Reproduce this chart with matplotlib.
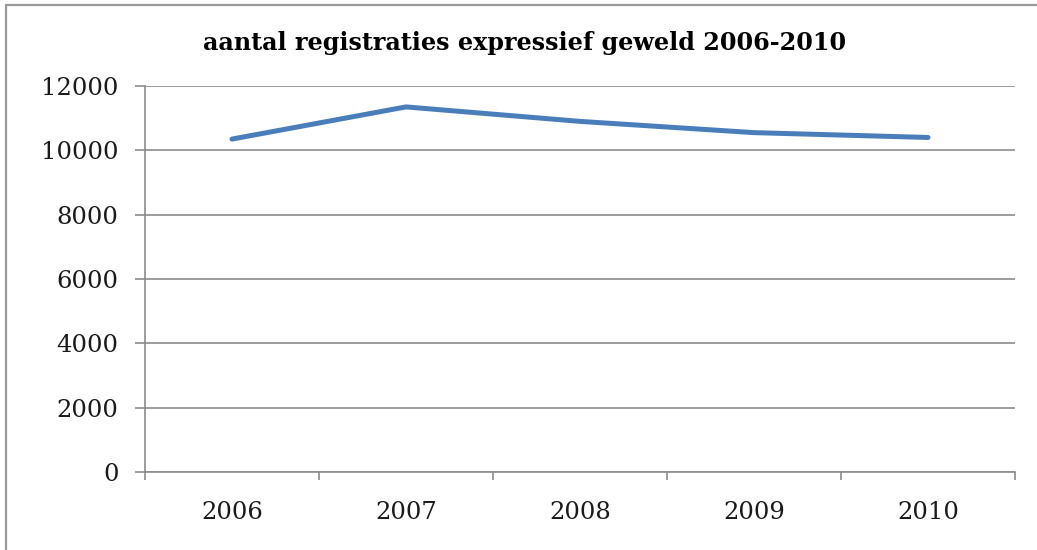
import numpy as np
import matplotlib.pyplot as plt
from matplotlib.patches import Rectangle

years = ['2006', '2007', '2008', '2009', '2010']
registraties = [10350, 11350, 10900, 10550, 10400]
y_ticks = [0, 2000, 4000, 6000, 8000, 10000, 12000]

plt.rcParams['font.family'] = ['DejaVu Serif']

fig = plt.figure(figsize=(10.37, 5.5), dpi=100)
ax = fig.add_axes([145/1037, 1-472/550, 870/1037, 386/550])

# outer chart frame (cut off at right and bottom)
fig.patches.append(Rectangle((6/1037, -0.1), 1.2, 1-5/550+0.1, transform=fig.transFigure,
                             fill=False, edgecolor='#9a9a9a', linewidth=1.6))

x = np.arange(len(years))
ax.plot(x, registraties, color='#4a7ebb', linewidth=3.6, solid_capstyle='round',
        solid_joinstyle='round', zorder=3)

ax.set_xlim(-0.5, len(years)-0.5)
ax.set_ylim(0, 12000)
ax.set_yticks(y_ticks)
ax.set_yticklabels([str(v) for v in y_ticks])
ax.set_xticks(x)
ax.set_xticklabels(years)
ax.set_xticks(np.arange(-0.5, len(years)), minor=True)

ax.grid(axis='y', color='#8c8c8c', linewidth=1.2)
ax.set_axisbelow(True)
for s in ['top', 'right']:
    ax.spines[s].set_visible(False)
for s in ['left', 'bottom']:
    ax.spines[s].set_color('#8c8c8c')
    ax.spines[s].set_linewidth(1.2)

ax.tick_params(axis='y', length=7, width=1.2, color='#8c8c8c', pad=12, labelsize=17.5,
               labelcolor='#1a1a1a')
ax.tick_params(axis='x', which='major', length=0, pad=21, labelsize=17.5, labelcolor='#1a1a1a')
ax.tick_params(axis='x', which='minor', length=6, width=1.2, color='#8c8c8c')

fig.text(525/1037, 1-43/550, 'aantal registraties expressief geweld 2006-2010',
         ha='center', va='center', fontsize=17.2, fontweight='bold')

fig.savefig('out.png', dpi=100)
